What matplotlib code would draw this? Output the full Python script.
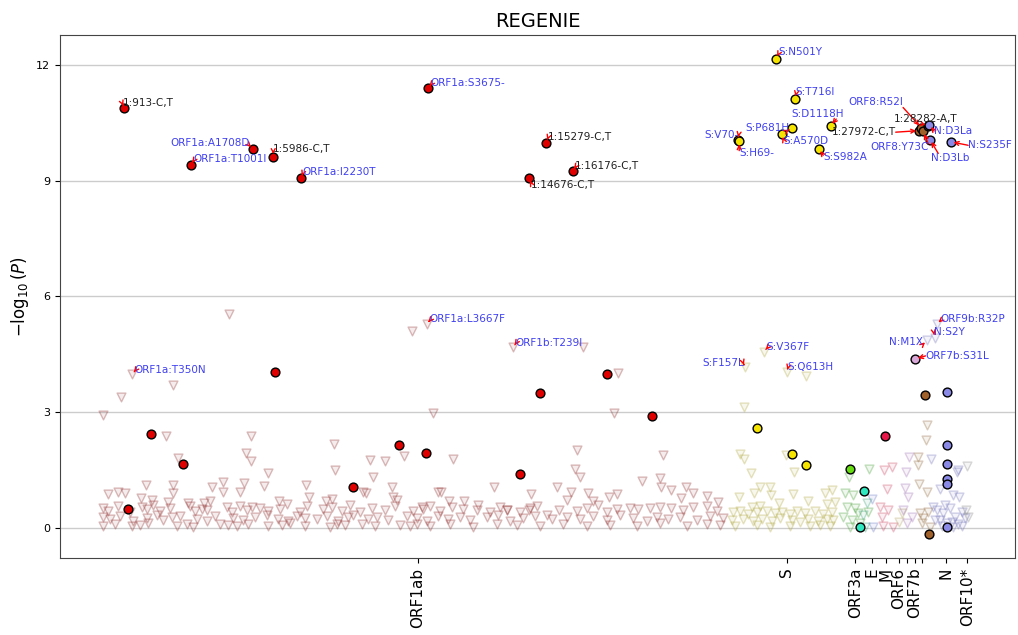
import matplotlib
matplotlib.use("Agg")
import matplotlib.pyplot as plt
from matplotlib.colors import to_rgba

# ---- highlighted variants (filled circles), position in bp, -log10(P)
orf1ab_hit_pos = [913, 5291, 5986, 3170, 6915, 11240, 15279, 14676, 16176, 6050,
                  1818, 2918, 1045, 8707, 10252, 11171, 15063, 14382, 17344, 18876]
orf1ab_hit_p = [10.88, 9.82, 9.62, 9.41, 9.06, 11.40, 9.99, 9.06, 9.25, 4.04,
                2.44, 1.66, 0.50, 1.05, 2.16, 1.93, 3.51, 1.41, 3.99, 2.90]
s_hit_pos = [23099, 23745, 24961, 23633, 23293, 21794, 21850, 24553, 22462, 23633, 24130]
s_hit_p = [12.16, 11.12, 10.42, 10.37, 10.20, 10.06, 10.02, 9.83, 2.58, 1.91, 1.63]
orf3a_hit_pos = [25607]
orf3a_hit_p = [1.53]
orf3b_hit_pos = [26094, 25948]
orf3b_hit_p = [0.95, 0.02]
m_hit_pos = [26810]
m_hit_p = [2.38]
orf7b_hit_pos = [27846]
orf7b_hit_p = [4.38]
orf8_hit_pos = [27972, 28047, 28110, 28282, 28190, 28310]
orf8_hit_p = [10.30, 10.38, 10.28, 10.42, 3.45, -0.15]
n_hit_pos = [28320, 28343, 29057, 28932, 28932, 28932, 28932, 28932, 28932]
n_hit_p = [10.45, 10.07, 10.01, 3.52, 2.14, 1.66, 1.28, 1.13, 0.02]

# ---- other variants (faint triangles)
orf1ab_pos = [4474, 1181, 797, 2578, 194, 10694, 11431, 2329, 5223, 2727, 5043, 5223, 5813,
              8049, 8094, 9275, 9795, 9388, 10445, 10013, 1638, 2578, 3885, 4280, 4994, 4280,
              4849, 5676, 7085, 7209, 365, 705, 944, 1467, 1841, 2386, 2557, 3088, 3623, 3827,
              5530, 6188, 7766, 7970, 9047, 9139, 10069, 10183, 11034, 11602,
              11205, 14154, 16537, 17730, 17595, 16334, 12090, 19262, 16255, 16426, 13499,
              15632, 14757, 16119, 16709, 18548, 19150, 19173, 17675, 16879, 17425, 11693,
              11976, 12487, 12930, 13951, 14383, 14700, 15291, 15722, 15972, 19524, 20035,
              20262, 20761, 21135, 19865, 19524, 18809, 18128, 17697,
              # band, upper row
              194, 365, 705, 1103, 1501, 1672, 1897, 2125, 2465, 3146, 3316, 3545, 3715,
              4396, 4566, 4849, 5076, 5247, 5813, 6211, 6438, 6892, 7119, 7686, 7970, 8311,
              8594, 8935, 9332, 9786, 10126, 10751, 11091, 11318, 11659, 12056, 12453, 12964,
              13361, 13702, 13950, 14723, 14950, 16312, 16653, 17050, 17334, 18412, 19150,
              19943, 20284, 20738, 21079,
              # band, middle row
              194, 422, 763, 1216, 1672, 2012, 2237, 2523, 2806, 3374, 3715, 3997, 4621,
              4961, 5360, 5758, 6153, 6493, 6779, 7062, 7460, 7801, 8196, 8536, 8707, 9217,
              9503, 9898, 10525, 10865, 11205, 11602, 11942, 12340, 12680, 13248, 13645,
              14042, 14496, 14893, 15462, 15972, 16426, 16880, 17334, 17788, 18241, 18695,
              19036, 19433, 19831, 20398, 20852, 21305,
              # band, lower row
              194, 592, 1161, 1444, 1726, 2693, 3034, 3259, 4168, 4450, 4736, 5131, 5813,
              6269, 6551, 7062, 7913, 8141, 8424, 8993, 9445, 10297, 10637, 10865, 11318,
              11999, 12793, 13589, 14270, 15064, 15858, 16653, 17447, 18356, 19150, 20057,
              20738, 21193]
orf1ab_p = [5.54, 3.98, 3.40, 3.71, 2.93, 5.11, 2.97, 2.38, 2.39, 1.81, 1.94, 1.74, 1.43,
            2.17, 1.50, 1.76, 1.74, 1.33, 1.87, 1.07, 1.11, 1.11, 1.07, 1.18, 1.17, 0.94,
            0.94, 1.09, 1.11, 0.81, 0.88, 0.93, 0.90, 0.77, 0.73, 0.68, 0.90, 0.64, 0.64, 0.71,
            0.51, 0.70, 0.71, 0.74, 0.94, 0.90, 0.81, 0.73, 0.55, 0.94,
            5.28, 4.68, 4.68, 4.01, 2.97, 2.02, 1.78, 1.89, 1.53, 1.33, 1.07,
            1.05, 0.88, 0.93, 0.91, 1.22, 1.30, 1.07, 0.88, 0.70, 0.81, 0.93,
            0.71, 0.70, 0.47, 0.47, 0.42, 0.47, 0.34, 0.47, 0.73, 0.98, 1.07,
            0.90, 0.83, 0.68, 0.77, 0.51, 0.51, 0.51, 0.49,
            0.52, 0.45, 0.58, 0.41, 0.55, 0.48, 0.60, 0.44, 0.52, 0.57, 0.43, 0.50, 0.46,
            0.55, 0.40, 0.58, 0.47, 0.53, 0.44, 0.50, 0.61, 0.42, 0.56, 0.48, 0.53, 0.45,
            0.59, 0.41, 0.52, 0.47, 0.56, 0.43, 0.50, 0.58, 0.45, 0.53, 0.48, 0.60,
            0.42, 0.55, 0.46, 0.51, 0.57, 0.44, 0.52, 0.59, 0.41, 0.49, 0.55,
            0.46, 0.53, 0.58, 0.44,
            0.28, 0.22, 0.31, 0.18, 0.25, 0.33, 0.20, 0.27, 0.30, 0.23, 0.19, 0.32, 0.26,
            0.21, 0.29, 0.34, 0.24, 0.17, 0.30, 0.26, 0.22, 0.31, 0.19, 0.28, 0.33, 0.23,
            0.27, 0.20, 0.30, 0.25, 0.18, 0.32, 0.24, 0.29, 0.21, 0.27, 0.33, 0.19,
            0.26, 0.31, 0.22, 0.28, 0.24, 0.30, 0.20, 0.33, 0.25, 0.18, 0.29, 0.23,
            0.27, 0.21, 0.32, 0.26,
            0.06, 0.10, 0.04, 0.08, 0.12, 0.05, 0.09, 0.03, 0.11, 0.07, 0.05, 0.10, 0.04,
            0.08, 0.12, 0.06, 0.03, 0.09, 0.07, 0.11, 0.05, 0.08, 0.04, 0.10, 0.06,
            0.09, 0.03, 0.11, 0.07, 0.05, 0.10, 0.04, 0.08, 0.06, 0.12, 0.05,
            0.09, 0.07]
s_pos = [22010, 21874, 22010, 22248, 23429, 23723, 22555, 22895, 22918, 22361, 21840, 23689,
         24200, 24768, 24995, 24846, 25108, 23211, 22272, 22555, 22044, 22691, 23463, 24121,
         21646, 21874, 22157, 22441, 22782, 23066, 23293, 23576, 23803, 24087, 24428, 24711,
         24995, 21590, 21987, 22327, 22611, 22952, 23236, 23633, 23917, 24200, 24541, 24825,
         25052, 21704, 22441, 22895, 23576, 24257, 24598, 24938]
s_p = [3.14, 1.92, 1.79, 1.42, 1.89, 1.44, 1.07, 1.07, 0.86, 0.90, 0.81, 0.88,
       0.70, 0.90, 0.98, 0.62, 0.68, 0.64, 0.55, 0.57, 4.16, 4.57, 4.03, 3.95,
       0.40, 0.44, 0.37, 0.42, 0.45, 0.38, 0.41, 0.36, 0.43, 0.39, 0.44, 0.37,
       0.42, 0.20, 0.24, 0.17, 0.22, 0.19, 0.25, 0.21, 0.16, 0.23, 0.18, 0.24,
       0.20, 0.05, 0.07, 0.03, 0.06, 0.04, 0.08, 0.05]
orf3a_pos = [25584, 26267, 25449, 25732, 25507, 25790, 25391, 25677, 25902, 25619, 25960, 26242]
orf3a_p = [1.33, 1.52, 0.90, 0.86, 0.55, 0.51, 0.29, 0.21, 0.38, 0.03, 0.12, 0.42]
orf3b_pos = [26073, 26188, 26130]
orf3b_p = [0.34, 0.64, 0.03]
e_pos = [26375, 26414]
e_p = [0.74, 0.02]
m_pos = [26787, 27059, 26889, 26641, 26924, 26698, 27094, 26754]
m_p = [1.50, 1.57, 1.00, 0.55, 0.47, 0.29, 0.03, 0.05]
orf6_pos = [27379, 27300]
orf6_p = [0.38, 0.15]
orf7a_pos = [27638, 27526, 27492, 27605, 27434, 27720, 27549]
orf7a_p = [1.83, 1.44, 1.03, 0.81, 0.47, 0.29, 0.12]
orf8_pos = [27945, 27945, 27958, 28251, 28231, 28208, 28003, 28115, 28285, 28059, 28343]
orf8_p = [1.83, 1.63, 1.14, 0.94, 2.67, 2.28, 0.38, 0.25, 0.42, 0.12, 0.03]
n_pos = [28367, 28684, 29137, 29341, 29307, 28571, 28796, 29024, 29194, 29422, 28684,
         28912, 29137, 28514, 29535, 29251, 28512, 28570, 28250, 28450, 28850, 29080,
         29300, 28750, 29450]
n_p = [1.79, 1.01, 0.86, 0.80, 1.50, 0.47, 0.38, 0.51, 0.29, 0.42, 0.21,
       0.12, 0.03, 0.21, 0.25, 1.46, 4.93, 5.28, 4.86, 0.55, 0.60, 0.15,
       0.10, 0.05, 0.05]
orf10_pos = [29592, 29648, 29569]
orf10_p = [1.61, 0.29, 0.47]

# ---- labelled variants: name, point (bp, p)
label_names = ["1:913-C,T", "ORF1a:A1708D", "1:5986-C,T", "ORF1a:T1001I", "ORF1a:I2230T",
               "ORF1a:S3675-", "1:15279-C,T", "1:14676-C,T", "1:16176-C,T",
               "S:N501Y", "S:T716I", "S:D1118H", "S:P681H", "S:A570D", "S:V70-", "S:H69-",
               "S:S982A", "ORF8:R52I", "1:28282-A,T", "1:27972-C,T", "ORF8:Y73C",
               "N:D3La", "N:D3Lb", "N:S235F",
               "ORF1a:T350N", "ORF1a:L3667F", "ORF1b:T239I", "S:F157L", "S:V367F",
               "S:Q613H", "ORF9b:R32P", "N:S2Y", "N:M1X", "ORF7b:S31L"]
label_pos = [913, 5291, 5986, 3170, 6915, 11240, 15279, 14676, 16176,
             23099, 23745, 24961, 23633, 23293, 21794, 21850, 24553, 28047, 28282, 27972,
             28110, 28320, 28343, 29057,
             1181, 11205, 14154, 22044, 22691, 23463, 28570, 28512, 28250, 27846]
label_p = [10.88, 9.82, 9.62, 9.41, 9.06, 11.40, 9.99, 9.06, 9.25,
           12.16, 11.12, 10.42, 10.37, 10.20, 10.06, 10.02, 9.83, 10.38, 10.42, 10.30,
           10.28, 10.45, 10.07, 10.01,
           3.98, 5.28, 4.68, 4.16, 4.57, 4.03, 5.28, 4.93, 4.86, 4.38]

# text placement (left edge bp, centre p) and where the arrow leaves the text box
text_xy = [(865, 11.02), (2465, 9.97), (5983, 9.82), (3259, 9.56), (6984, 9.24),
           (11342, 11.54), (15326, 10.14), (14757, 8.89), (16256, 9.39),
           (23178, 12.33), (23780, 11.29), (23634, 10.73), (22044, 10.38), (23348, 10.04),
           (20648, 10.19), (21850, 9.73), (24711, 9.61), (25562, 11.03), (27117, 10.60),
           (24996, 10.26), (26300, 9.88), (28490, 10.29), (28366, 9.58), (29648, 9.92),
           (1250, 4.10), (11294, 5.41), (14212, 4.80), (20590, 4.28), (22759, 4.68),
           (23497, 4.17), (28684, 5.41), (28490, 5.07), (26947, 4.81), (28197, 4.46)]
arrow_from = [(0, 0.3), (1, 0.3), (0, 0.3), (0, 0.3), (0, 0.3),
              (0, 0.3), (0, 0.3), (0, 0.7), (0, 0.3),
              (0, 0.3), (0, 0.3), (0.85, 0), (1, 0.3), (0, 0.7),
              (1, 0.3), (0, 0.7), (0, 0.7), (1, 0), (0.45, 0),
              (1, 0.5), (1, 0.8), (0, 0.5), (0.2, 1), (0, 0.5),
              (0, 0.3), (0, 0.3), (0, 0.3), (1, 0.3), (0, 0.3),
              (0, 0.3), (0, 0.3), (0, 0.3), (1, 0.3), (0, 0.5)]

gene_names = ["ORF1ab", "S", "ORF3a", "E", "M", "ORF6", "", "ORF7b", "", "N", "ORF10*"]
gene_mid = [10910, 23473, 25806, 26358, 26857, 27294, 27576, 27821, 28076, 28903, 29616]

fig = plt.figure(figsize=(10.18, 6.35), dpi=100)
ax = fig.add_axes([0.0589, 0.1213, 0.9381, 0.8236])

tri_groups = [
    (orf1ab_pos, orf1ab_p, "#8b2020"),
    (s_pos, s_p, "#aaa230"),
    (orf3a_pos, orf3a_p, "#3a9a2a"),
    (orf3b_pos, orf3b_p, "#2a9a70"),
    (e_pos, e_p, "#6070c0"),
    (m_pos, m_p, "#c83c5a"),
    (orf6_pos, orf6_p, "#b0a060"),
    (orf7a_pos, orf7a_p, "#9a6ab0"),
    (orf8_pos, orf8_p, "#8b6030"),
    (n_pos, n_p, "#6a6ab8"),
    (orf10_pos, orf10_p, "#808080"),
]
for xs, ys, c in tri_groups:
    ax.scatter(xs, ys, marker="v", s=40, facecolors=[to_rgba(c, 0.08)],
               edgecolors=[to_rgba(c, 0.30)], linewidths=1, zorder=2)

hit_groups = [
    (orf1ab_hit_pos, orf1ab_hit_p, "#e00000"),
    (s_hit_pos, s_hit_p, "#f5e400"),
    (orf3a_hit_pos, orf3a_hit_p, "#66dd11"),
    (orf3b_hit_pos, orf3b_hit_p, "#30e8c0"),
    (m_hit_pos, m_hit_p, "#e8174a"),
    (orf7b_hit_pos, orf7b_hit_p, "#d8a8d8"),
    (orf8_hit_pos, orf8_hit_p, "#a0612b"),
    (n_hit_pos, n_hit_p, "#8a8ae6"),
]
for xs, ys, c in hit_groups:
    ax.scatter(xs, ys, marker="o", s=40, c=c, edgecolors="black", linewidths=1, zorder=3)

for name, x, y, (tx, ty), rp in zip(label_names, label_pos, label_p, text_xy, arrow_from):
    color = "#202020" if name.startswith("1:") else "#4040f0"
    ax.annotate(name, xy=(x, y), xytext=(tx, ty), ha="left", va="center",
                fontsize=7.5, color=color, zorder=4,
                arrowprops=dict(arrowstyle="->", color="red", lw=1,
                                mutation_scale=7, relpos=rp,
                                shrinkA=0, shrinkB=2, patchA=None))

ax.set_xlim(-1280, 31240)
ax.set_ylim(-0.78, 12.78)
ax.set_yticks([0, 3, 6, 9, 12])
ax.tick_params(axis="y", labelsize=8)
ax.set_xticks(gene_mid)
ax.set_xticklabels(gene_names, rotation=90, fontsize=11)
ax.grid(axis="y", color="#cccccc", lw=1)
ax.set_axisbelow(True)
for sp in ax.spines.values():
    sp.set_color("#444444")
ax.set_ylabel(r"$-\log_{10}(P)$", fontsize=12)
ax.set_title("REGENIE", fontsize=14)

fig.savefig("out.png", dpi=100)
